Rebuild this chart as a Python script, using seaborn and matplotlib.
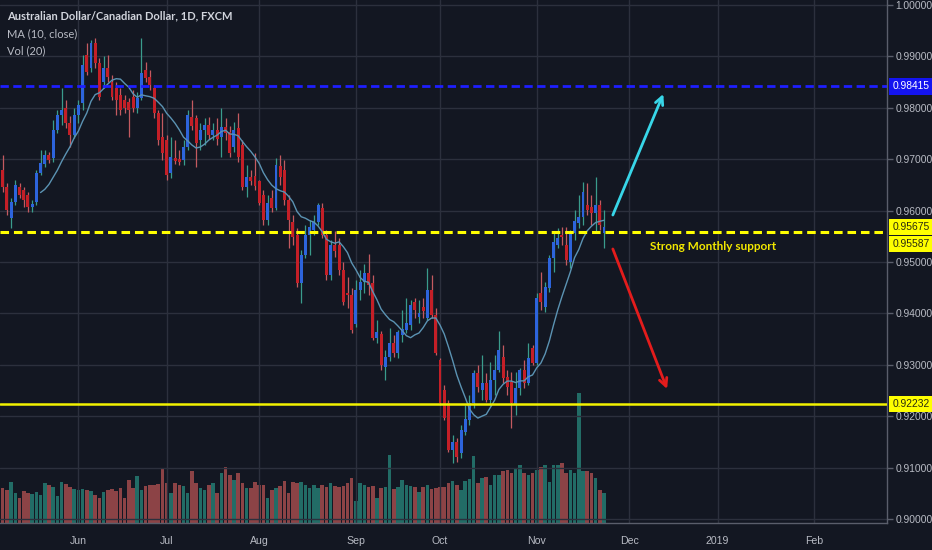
import pandas as pd
import matplotlib
matplotlib.use("Agg")
import matplotlib.pyplot as plt
import matplotlib.transforms as mtransforms
from matplotlib.ticker import FormatStrFormatter
import seaborn as sns


# Data (FXCM), first bar 2018-05-08

start_date = "2018-05-08"

opens = [
    0.9679, 0.9646, 0.9586, 0.9617, 0.9646, 0.9640, 0.9630, 0.9607, 0.9617, 0.9673,
    0.9690, 0.9708, 0.9702, 0.9757, 0.9786, 0.9799, 0.9770, 0.9747, 0.9786, 0.9809,
    0.9903, 0.9878, 0.9926, 0.9887, 0.9850, 0.9877, 0.9850, 0.9838, 0.9825, 0.9815,
    0.9811, 0.9821, 0.9800, 0.9819, 0.9874, 0.9860, 0.9838, 0.9790, 0.9743, 0.9737,
    0.9673, 0.9702, 0.9700, 0.9698, 0.9724, 0.9782, 0.9780, 0.9737, 0.9757, 0.9767,
    0.9748, 0.9757, 0.9743, 0.9763, 0.9753, 0.9724, 0.9761, 0.9728, 0.9646, 0.9665,
    0.9667, 0.9657, 0.9630, 0.9582, 0.9625, 0.9605, 0.9686, 0.9679, 0.9621, 0.9578,
    0.9553, 0.9459, 0.9514, 0.9553, 0.9562, 0.9578, 0.9605, 0.9553, 0.9475, 0.9533,
    0.9533, 0.9484, 0.9440, 0.9436, 0.9380, 0.9446, 0.9461, 0.9479, 0.9459, 0.9352,
    0.9360, 0.9296, 0.9315, 0.9342, 0.9323, 0.9358, 0.9368, 0.9377, 0.9422, 0.9393,
    0.9413, 0.9391, 0.9446, 0.9397, 0.9309, 0.9251, 0.9226, 0.9134, 0.9150, 0.9128,
    0.9169, 0.9193, 0.9226, 0.9284, 0.9251, 0.9264, 0.9232, 0.9270, 0.9290, 0.9315,
    0.9276, 0.9266, 0.9222, 0.9255, 0.9290, 0.9264, 0.9333, 0.9304, 0.9440, 0.9413,
    0.9450, 0.9508, 0.9533, 0.9553, 0.9533, 0.9500, 0.9556, 0.9576, 0.9588, 0.9611,
    0.9607, 0.9596, 0.9611, 0.9557,
]
highs = [
    0.9708, 0.9654, 0.9625, 0.9660, 0.9654, 0.9646, 0.9636, 0.9621, 0.9679, 0.9718,
    0.9718, 0.9714, 0.9776, 0.9796, 0.9838, 0.9815, 0.9784, 0.9800, 0.9815, 0.9903,
    0.9926, 0.9932, 0.9936, 0.9897, 0.9900, 0.9903, 0.9864, 0.9850, 0.9838, 0.9825,
    0.9819, 0.9835, 0.9831, 0.9936, 0.9889, 0.9874, 0.9844, 0.9796, 0.9790, 0.9747,
    0.9743, 0.9737, 0.9718, 0.9737, 0.9796, 0.9815, 0.9786, 0.9770, 0.9780, 0.9782,
    0.9770, 0.9780, 0.9800, 0.9780, 0.9765, 0.9772, 0.9790, 0.9737, 0.9688, 0.9679,
    0.9712, 0.9660, 0.9640, 0.9630, 0.9640, 0.9702, 0.9708, 0.9698, 0.9630, 0.9591,
    0.9567, 0.9523, 0.9572, 0.9582, 0.9591, 0.9615, 0.9615, 0.9562, 0.9543, 0.9560,
    0.9547, 0.9500, 0.9470, 0.9449, 0.9465, 0.9484, 0.9496, 0.9515, 0.9475, 0.9387,
    0.9366, 0.9329, 0.9372, 0.9358, 0.9368, 0.9407, 0.9430, 0.9426, 0.9430, 0.9426,
    0.9430, 0.9488, 0.9475, 0.9411, 0.9313, 0.9261, 0.9232, 0.9163, 0.9158, 0.9183,
    0.9222, 0.9241, 0.9290, 0.9300, 0.9319, 0.9284, 0.9305, 0.9319, 0.9366, 0.9339,
    0.9290, 0.9286, 0.9286, 0.9294, 0.9309, 0.9342, 0.9339, 0.9440, 0.9481, 0.9461,
    0.9514, 0.9558, 0.9566, 0.9568, 0.9568, 0.9562, 0.9601, 0.9630, 0.9655, 0.9654,
    0.9630, 0.9665, 0.9621, 0.9601,
]
lows = [
    0.9636, 0.9591, 0.9566, 0.9611, 0.9625, 0.9607, 0.9597, 0.9597, 0.9611, 0.9669,
    0.9685, 0.9693, 0.9694, 0.9751, 0.9767, 0.9761, 0.9723, 0.9741, 0.9770, 0.9796,
    0.9864, 0.9870, 0.9877, 0.9815, 0.9838, 0.9850, 0.9815, 0.9786, 0.9786, 0.9790,
    0.9743, 0.9792, 0.9790, 0.9815, 0.9850, 0.9835, 0.9780, 0.9728, 0.9698, 0.9660,
    0.9663, 0.9690, 0.9688, 0.9688, 0.9718, 0.9757, 0.9685, 0.9718, 0.9727, 0.9740,
    0.9737, 0.9727, 0.9704, 0.9737, 0.9704, 0.9714, 0.9695, 0.9640, 0.9626, 0.9650,
    0.9640, 0.9611, 0.9572, 0.9572, 0.9597, 0.9601, 0.9650, 0.9611, 0.9527, 0.9533,
    0.9451, 0.9420, 0.9508, 0.9514, 0.9553, 0.9572, 0.9547, 0.9465, 0.9465, 0.9510,
    0.9475, 0.9416, 0.9410, 0.9362, 0.9373, 0.9426, 0.9440, 0.9436, 0.9348, 0.9342,
    0.9290, 0.9270, 0.9307, 0.9315, 0.9313, 0.9344, 0.9362, 0.9368, 0.9391, 0.9381,
    0.9391, 0.9387, 0.9391, 0.9319, 0.9222, 0.9193, 0.9130, 0.9109, 0.9111, 0.9119,
    0.9163, 0.9183, 0.9216, 0.9247, 0.9232, 0.9228, 0.9222, 0.9241, 0.9286, 0.9265,
    0.9241, 0.9177, 0.9202, 0.9241, 0.9255, 0.9261, 0.9300, 0.9300, 0.9407, 0.9403,
    0.9442, 0.9481, 0.9527, 0.9533, 0.9494, 0.9488, 0.9543, 0.9566, 0.9572, 0.9591,
    0.9572, 0.9558, 0.9562, 0.9527,
]
closes = [
    0.9646, 0.9601, 0.9617, 0.9650, 0.9630, 0.9621, 0.9607, 0.9613, 0.9673, 0.9693,
    0.9708, 0.9698, 0.9757, 0.9786, 0.9796, 0.9770, 0.9747, 0.9786, 0.9805, 0.9884,
    0.9870, 0.9926, 0.9887, 0.9821, 0.9877, 0.9860, 0.9821, 0.9815, 0.9796, 0.9800,
    0.9796, 0.9800, 0.9819, 0.9868, 0.9858, 0.9844, 0.9790, 0.9737, 0.9712, 0.9669,
    0.9704, 0.9696, 0.9694, 0.9724, 0.9786, 0.9764, 0.9731, 0.9757, 0.9767, 0.9748,
    0.9757, 0.9740, 0.9763, 0.9751, 0.9712, 0.9757, 0.9704, 0.9646, 0.9665, 0.9657,
    0.9648, 0.9615, 0.9582, 0.9615, 0.9605, 0.9688, 0.9665, 0.9621, 0.9582, 0.9549,
    0.9459, 0.9514, 0.9553, 0.9568, 0.9578, 0.9611, 0.9553, 0.9475, 0.9533, 0.9522,
    0.9484, 0.9422, 0.9435, 0.9368, 0.9446, 0.9461, 0.9479, 0.9455, 0.9352, 0.9364,
    0.9300, 0.9315, 0.9342, 0.9323, 0.9364, 0.9370, 0.9381, 0.9416, 0.9407, 0.9401,
    0.9405, 0.9446, 0.9397, 0.9323, 0.9226, 0.9197, 0.9134, 0.9150, 0.9121, 0.9173,
    0.9195, 0.9226, 0.9284, 0.9257, 0.9264, 0.9232, 0.9270, 0.9290, 0.9329, 0.9274,
    0.9257, 0.9226, 0.9255, 0.9290, 0.9264, 0.9313, 0.9304, 0.9430, 0.9422, 0.9451,
    0.9508, 0.9539, 0.9547, 0.9549, 0.9503, 0.9556, 0.9580, 0.9588, 0.9636, 0.9601,
    0.9596, 0.9611, 0.9572, 0.9568,
]
# volume in thousands (scale is not shown on the chart)
volumes = [
    35, 33, 41, 30, 25, 32, 30, 29, 31, 28,
    40, 38, 36, 27, 41, 39, 36, 34, 33, 34,
    33, 32, 28, 25, 31, 33, 34, 32, 35, 25,
    43, 35, 47, 33, 37, 38, 38, 39, 54, 40,
    30, 40, 38, 37, 30, 52, 40, 35, 33, 38,
    40, 30, 50, 56, 48, 43, 50, 40, 35, 35,
    41, 38, 38, 25, 33, 35, 37, 42, 30, 41,
    40, 41, 38, 35, 38, 35, 38, 36, 40, 37,
    36, 37, 40, 45, 22, 40, 38, 36, 37, 25,
    35, 36, 68, 34, 36, 43, 38, 37, 36, 31,
    36, 38, 34, 35, 36, 36, 40, 42, 38, 33,
    42, 44, 67, 40, 45, 46, 38, 48, 48, 52,
    53, 50, 55, 58, 50, 48, 50, 53, 56, 58,
    41, 58, 58, 60, 50, 53, 50, 130, 52, 52,
    50, 45, 33, 30,
]

month_labels = ["Jun", "Jul", "Aug", "Sep", "Oct", "Nov", "Dec", "2019", "Feb"]
price_ticks = [0.90, 0.91, 0.92, 0.93, 0.94, 0.95, 0.96, 0.97, 0.98, 0.99, 1.00]

resistance = 0.98415
support_dash = 0.95587
last_price = 0.95675
support_low = 0.92232

# Colours

bg = "#131722"
grid_c = "#2c303d"
axis_c = "#5a5e6b"
text_c = "#b8bbc4"
up_c, down_c = "#2d64dc", "#c41f27"
up_wick, down_wick = "#3a9c8c", "#c45a60"
vol_up, vol_down = "#226c66", "#8c4346"
ma_c = "#5b93b3"

# Frame

df = pd.DataFrame({"open": opens, "high": highs, "low": lows,
                   "close": closes, "volume": volumes})
df["idx"] = range(len(df))
df["up"] = df["close"] >= df["open"]
df["ma"] = df["close"].rolling(10).mean()

days = pd.bdate_range(start_date, "2019-02-28")
months = pd.Series(days.month)
month_idx = list(months.index[months.ne(months.shift())])[1:]

sns.set_theme(style="dark")
plt.rcParams["font.family"] = ["Liberation Sans", "DejaVu Sans"]

fig = plt.figure(figsize=(9.32, 5.5), dpi=100, facecolor=bg)
rect = [0, 27 / 550, 887 / 932, 523 / 550]
xlim = (-0.64, 210.3)

# Volume panel (behind prices)
vax = fig.add_axes(rect, zorder=0)
vax.set_facecolor(bg)
vax.bar(df["idx"], df["volume"], width=0.85,
        color=[vol_up if u else vol_down for u in df["up"]], linewidth=0)
vax.set_xlim(*xlim)
vax.set_ylim(0, max(volumes) * 4.02)
vax.set_axis_off()

ax = fig.add_axes(rect, zorder=1)
ax.patch.set_alpha(0)
ax.set_xlim(*xlim)
ax.set_ylim(0.89922, 1.00097)

ax.set_yticks(price_ticks)
ax.set_xticks(month_idx)
ax.set_xticklabels(month_labels)
ax.yaxis.tick_right()
ax.yaxis.set_major_formatter(FormatStrFormatter("%.5f"))
ax.grid(True, color=grid_c, linewidth=1)
ax.set_axisbelow(True)
ax.tick_params(axis="y", labelsize=7.4, labelcolor=text_c, color=axis_c,
               length=4, width=1, pad=2)
ax.tick_params(axis="x", labelsize=7.6, labelcolor=text_c, length=0, pad=9)
for s in ["top", "left"]:
    ax.spines[s].set_visible(False)
for s in ["right", "bottom"]:
    ax.spines[s].set_color(axis_c)
    ax.spines[s].set_linewidth(1)

# Candles
ax.vlines(df["idx"], df["low"], df["high"],
          colors=[up_wick if u else down_wick for u in df["up"]],
          linewidth=0.9, zorder=2)
body_low = df[["open", "close"]].min(axis=1)
body_h = (df["close"] - df["open"]).abs().clip(lower=0.00012)
ax.bar(df["idx"], body_h, bottom=body_low, width=0.7,
       color=[up_c if u else down_c for u in df["up"]], linewidth=0, zorder=3)

# MA (10, close)
sns.lineplot(data=df, x="idx", y="ma", ax=ax, color=ma_c, linewidth=1.0,
             zorder=4)
ax.set_xlabel("")
ax.set_ylabel("")

# Drawn levels
ax.axhline(resistance, color="#1e1eff", linewidth=2.0,
           linestyle=(0, (3, 1.6)), zorder=5)
ax.axhline(support_dash, color="#ffff00", linewidth=2.2,
           linestyle=(0, (2.8, 1.6)), zorder=5)
ax.axhline(support_low, color="#f2f200", linewidth=1.8, zorder=5)

# Arrows and note
ax.annotate("", xy=(157.1, 0.98268), xytext=(145.1, 0.95914),
            arrowprops=dict(arrowstyle="->", color="#38d6e8", lw=2,
                            mutation_scale=14, shrinkA=0, shrinkB=0))
ax.annotate("", xy=(158.0, 0.92529), xytext=(145.1, 0.95253),
            arrowprops=dict(arrowstyle="->", color="#e41c1c", lw=2,
                            mutation_scale=14, shrinkA=0, shrinkB=0))
ax.text(168.9, 0.95311, "Strong Monthly support", color="#f2e800",
        fontsize=8.5, fontweight="bold", family=["Lato", "DejaVu Sans"],
        ha="center", va="center", zorder=6)

# Price labels on the scale
blend = mtransforms.blended_transform_factory(ax.transAxes, ax.transData)
labels = [
    (resistance, 0, "#1414f0", "white"),
    (last_price, 0, "#ffff00", "#2a2a10"),
    (support_dash, -9, "#ffff00", "#2a2a10"),
    (support_low, 0, "#ffff00", "#2a2a10"),
]
for price, dy, fc, tc in labels:
    ax.annotate(f"{price:.5f}", xy=(1.0, price), xycoords=blend,
                xytext=(4, dy), textcoords="offset points",
                ha="left", va="center", fontsize=7.4, color=tc,
                bbox=dict(boxstyle="square,pad=0.3", fc=fc, ec="none"),
                annotation_clip=False, zorder=7)

# Legend block
fig.text(7 / 932, 1 - 16 / 550, "Australian Dollar/Canadian Dollar, 1D, FXCM",
         color="#d1d4dc", fontsize=8, fontweight="bold",
         family=["Lato", "DejaVu Sans"], va="center")
fig.text(7 / 932, 1 - 34 / 550, "MA (10, close)", color=text_c, fontsize=8,
         family=["Lato", "DejaVu Sans"], va="center")
fig.text(7 / 932, 1 - 51 / 550, "Vol (20)", color=text_c, fontsize=8,
         family=["Lato", "DejaVu Sans"], va="center")

fig.savefig("out.png", dpi=100, facecolor=bg)
